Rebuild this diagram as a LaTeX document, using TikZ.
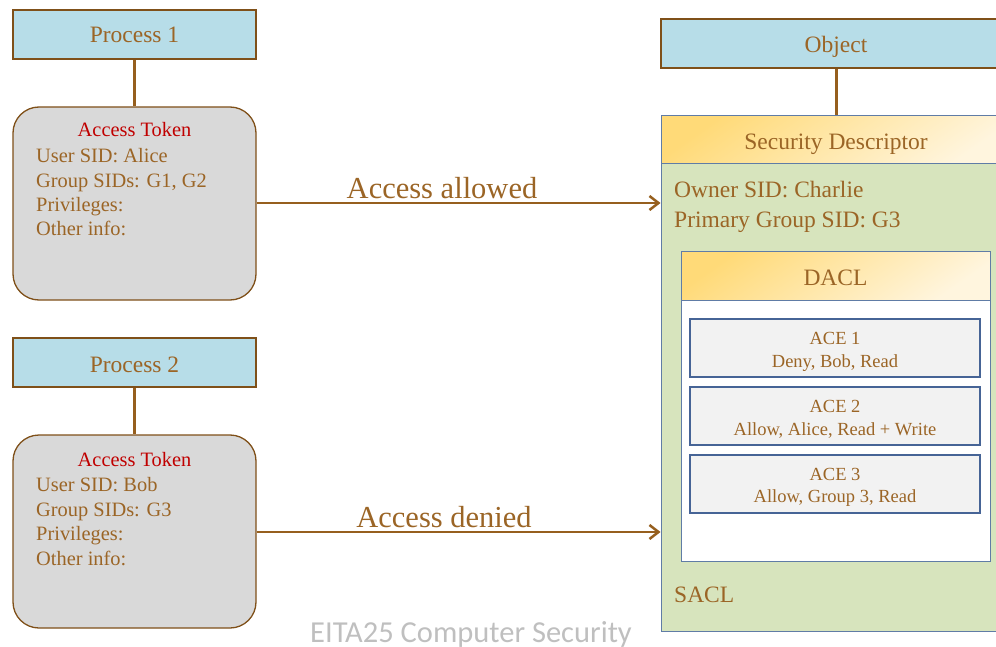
\documentclass[tikz,border=0pt]{standalone}
\usepackage{fontspec}
\setmainfont{Liberation Serif}
\newfontfamily\footfont{Carlito}
\usetikzlibrary{arrows.meta,positioning}
\definecolor{txtbrown}{RGB}{155,101,38}
\definecolor{linebrown}{RGB}{150,95,30}
\definecolor{boxbrown}{RGB}{127,80,25}
\definecolor{procblue}{RGB}{183,221,232}
\definecolor{tokgray}{RGB}{217,217,217}
\definecolor{tokred}{RGB}{192,0,0}
\definecolor{sdgreen}{RGB}{215,228,189}
\definecolor{sdborder}{RGB}{96,124,166}
\definecolor{aceborder}{RGB}{70,100,150}
\definecolor{acefill}{RGB}{242,242,242}
\definecolor{hdrtop}{RGB}{255,218,120}
\definecolor{hdrbot}{RGB}{255,245,222}
\definecolor{footgray}{RGB}{191,191,191}
\tikzset{
  procbox/.style={draw=boxbrown, line width=2.5pt, fill=procblue, minimum width=243pt,
    minimum height=49pt, inner sep=0pt},
  proctxt/.style={anchor=base, text=txtbrown, font=\fontsize{23.5}{28}\selectfont, inner sep=0pt},
  tokbox/.style={draw=boxbrown, line width=1.3pt, fill=tokgray, rounded corners=26pt,
    minimum width=243pt, minimum height=193pt, inner sep=0pt},
  stem/.style={draw=linebrown, line width=3pt},
  flow/.style={draw=linebrown, line width=2.5pt, -{Straight Barb[length=9pt,width=14pt]}},
  toktitle/.style={anchor=base, text=tokred, font=\fontsize{20.4}{24}\selectfont, inner sep=0pt},
  tokline/.style={anchor=base west, text=txtbrown, font=\fontsize{20.4}{24}\selectfont, inner sep=0pt},
  bigtxt/.style={text=txtbrown, font=\fontsize{23.5}{28}\selectfont, inner sep=0pt},
  flowlbl/.style={anchor=base, text=txtbrown, font=\fontsize{30.5}{36}\selectfont, inner sep=0pt},
  hdr/.style={draw=sdborder, line width=1pt, top color=hdrtop, bottom color=hdrbot, shading angle=35},
  acebox/.style={draw=aceborder, line width=1.2pt, fill=acefill, minimum width=290pt,
    minimum height=58pt, inner sep=0pt},
  acetxt/.style={anchor=base, text=txtbrown, font=\fontsize{18.5}{22}\selectfont, inner sep=0pt},
}
\begin{document}
\begin{tikzpicture}[x=1pt,y=-1pt]
\useasboundingbox (0,0) rectangle (996,647);
\clip (0,0) rectangle (996,647);

% processes and their access tokens
\node[procbox] (proc1) at (134.5,34.5) {};
\node[proctxt] at (134.5,43) {Process 1};
\node[tokbox] (tok1) at (134.5,203.5) {};
\draw[stem] (proc1.south) -- (tok1.north);
\node[toktitle] at (134.5,137) {Access Token};
\node[tokline] at (36,163) {User SID: Alice};
\node[tokline] at (36,187.5) {Group SIDs: G1, G2};
\node[tokline] at (36,211.5) {Privileges:};
\node[tokline] at (36,236) {Other info:};

\node[procbox] (proc2) at (134.5,362.5) {};
\node[proctxt] at (134.5,372) {Process 2};
\node[tokbox] (tok2) at (134.5,531.5) {};
\draw[stem] (proc2.south) -- (tok2.north);
\node[toktitle] at (134.5,466) {Access Token};
\node[tokline] at (36,491) {User SID: Bob};
\node[tokline] at (36,516) {Group SIDs: G3};
\node[tokline] at (36,540) {Privileges:};
\node[tokline] at (36,565) {Other info:};

% object and its security descriptor
\node[procbox, minimum width=350pt] (obj) at (836,43.5) {};
\node[bigtxt, anchor=base] at (836,53) {Object};

\node[draw=sdborder, line width=1pt, fill=sdgreen, minimum width=350pt, minimum height=515pt,
  inner sep=0pt] (sd) at (836,373.5) {};
\path[hdr] (661,116) rectangle (1011,164);
\node[bigtxt, anchor=base] (sdhead) at (836,150) {Security Descriptor};
\draw[stem] (obj.south) -- (sd.north);
\node[bigtxt, anchor=base west] at (674,198) {Owner SID: Charlie};
\node[bigtxt, anchor=base west] at (674,227.5) {Primary Group SID: G3};

% DACL with its entries
\node[draw=sdborder, line width=1pt, fill=white, minimum width=309pt, minimum height=309pt,
  inner sep=0pt] (dacl) at (835.5,406.5) {};
\path[hdr] (681,252) rectangle (990,300);
\node[bigtxt, anchor=base] (dhead) at (835.5,285) {DACL};

\node[acebox] (ace1) at (835,348) {};
\node[acetxt] at (835,344) {ACE 1};
\node[acetxt] at (835,367.5) {Deny, Bob, Read};
\node[acebox] (ace2) at (835,416) {};
\node[acetxt] at (835,412) {ACE 2};
\node[acetxt] at (835,435.5) {Allow, Alice, Read + Write};
\node[acebox] (ace3) at (835,484) {};
\node[acetxt] at (835,480) {ACE 3};
\node[acetxt] at (835,502.5) {Allow, Group 3, Read};

\node[bigtxt, anchor=base west] at (674,602) {SACL};

% access requests
\coordinate (in1) at (sd.west |- 0,203);
\coordinate (in2) at (sd.west |- 0,532);
\draw[flow] (tok1.east |- in1) -- (in1);
\draw[flow] (tok2.east |- in2) -- (in2);
\node[flowlbl] at (442,199) {Access allowed};
\node[flowlbl] at (444,527) {Access denied};

% footer
\node[anchor=base, text=footgray, font=\footfont\fontsize{30.5}{35}\selectfont, inner sep=0pt]
  at (471,642) {EITA25 Computer Security};
\end{tikzpicture}
\end{document}
